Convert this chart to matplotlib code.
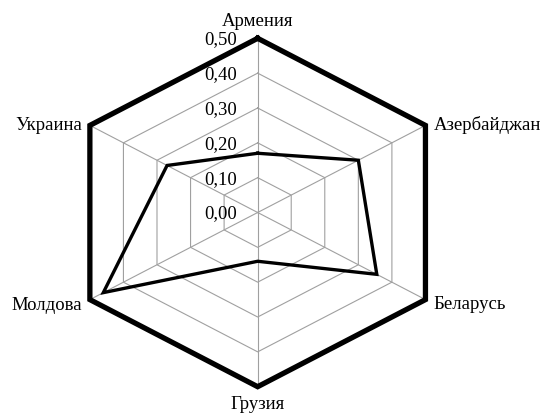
import numpy as np
import matplotlib
matplotlib.use("Agg")
import matplotlib.pyplot as plt

categories = ["Армения", "Азербайджан", "Беларусь", "Грузия", "Молдова", "Украина"]
values = [0.17, 0.30, 0.355, 0.14, 0.46, 0.27]
rticks = [0.0, 0.1, 0.2, 0.3, 0.4, 0.5]
rtick_labels = ["0,00", "0,10", "0,20", "0,30", "0,40", "0,50"]

plt.rcParams['font.family'] = ['Liberation Serif', 'DejaVu Serif']

fig = plt.figure(figsize=(5.44, 4.15), dpi=100)
ax = fig.add_axes([0.1175, 0.0682, 0.7123, 0.8395], projection='polar')
ax.set_aspect('auto')
ax.set_theta_offset(np.pi / 2)
ax.set_theta_direction(-1)
ax.set_ylim(0, rticks[-1])
ax.set_axis_off()

n = len(categories)
angles = np.arange(n) * 2 * np.pi / n
ang_closed = np.append(angles, angles[0])

grid_color = '#a0a0a0'
for r in rticks[1:-1]:
    ax.plot(ang_closed, [r] * (n + 1), color=grid_color, lw=0.8, clip_on=False, zorder=1)
for a in angles:
    ax.plot([a, a], [0, rticks[-1]], color=grid_color, lw=0.8, clip_on=False, zorder=1)

# outer frame
ax.plot(ang_closed, [rticks[-1]] * (n + 1), color='black', lw=3.8, clip_on=False,
        solid_joinstyle='miter', zorder=3)

# data
vals_closed = values + values[:1]
ax.plot(ang_closed, vals_closed, color='black', lw=2.4, clip_on=False,
        solid_joinstyle='miter', zorder=4)

fs = 13.5
# radial tick labels
for r, lab in zip(rticks, rtick_labels):
    ax.annotate(lab, xy=(0, r), xytext=(-21, -6), textcoords='offset pixels',
                ha='right', va='baseline', fontsize=fs, zorder=5)

# category labels
offsets = [(0, 12, 'center'), (8, -5, 'left'), (8, -9, 'left'),
           (0, -22, 'center'), (-8, -10, 'right'), (-8, -5, 'right')]
for a, lab, (dx, dy, ha) in zip(angles, categories, offsets):
    ax.annotate(lab, xy=(a, rticks[-1]), xytext=(dx, dy), textcoords='offset pixels',
                ha=ha, va='baseline', fontsize=fs, annotation_clip=False)

fig.savefig("out.png", dpi=100)
